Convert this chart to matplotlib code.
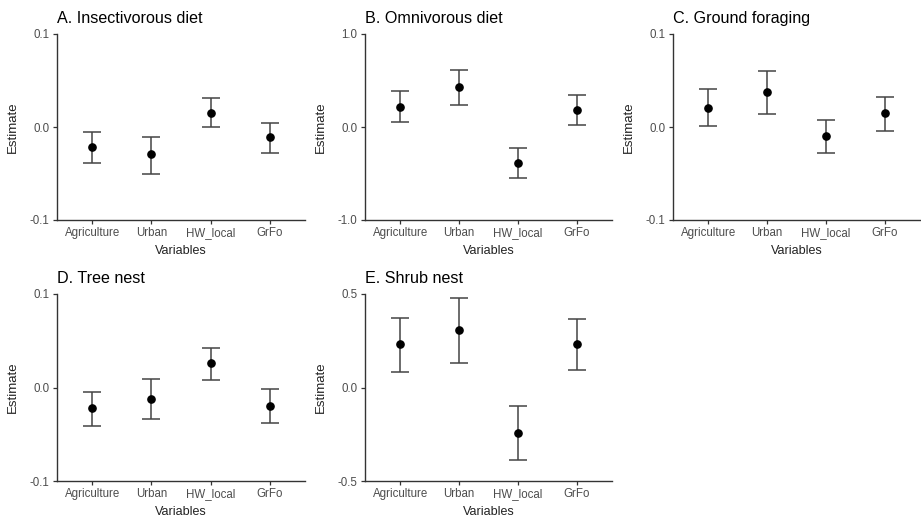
import matplotlib
matplotlib.use("Agg")
import matplotlib.pyplot as plt

plt.rcParams['font.family'] = ['Liberation Sans', 'DejaVu Sans']

categories = ["Agriculture", "Urban", "HW_local", "GrFo"]

titles = ["A. Insectivorous diet", "B. Omnivorous diet", "C. Ground foraging",
          "D. Tree nest", "E. Shrub nest"]

est_A = [-0.0214, -0.029, 0.0154, -0.011]
lo_A = [-0.039, -0.050, -0.0004, -0.028]
hi_A = [-0.005, -0.0104, 0.0314, 0.0043]

est_B = [0.218, 0.432, -0.389, 0.186]
lo_B = [0.05, 0.232, -0.55, 0.025]
hi_B = [0.382, 0.618, -0.229, 0.346]

est_C = [0.0204, 0.0375, -0.0093, 0.0146]
lo_C = [0.001, 0.0143, -0.028, -0.0046]
hi_C = [0.0407, 0.0604, 0.0079, 0.032]

est_D = [-0.0221, -0.012, 0.026, -0.020]
lo_D = [-0.041, -0.0338, 0.0082, -0.038]
hi_D = [-0.0043, 0.0096, 0.0427, -0.0018]

est_E = [0.231, 0.31, -0.242, 0.231]
lo_E = [0.084, 0.133, -0.388, 0.094]
hi_E = [0.374, 0.479, -0.0996, 0.368]

ylims = [(-0.1, 0.1), (-1.0, 1.0), (-0.1, 0.1), (-0.1, 0.1), (-0.5, 0.5)]
yticks = [[-0.1, 0.0, 0.1], [-1.0, 0.0, 1.0], [-0.1, 0.0, 0.1],
          [-0.1, 0.0, 0.1], [-0.5, 0.0, 0.5]]

data = [(est_A, lo_A, hi_A), (est_B, lo_B, hi_B), (est_C, lo_C, hi_C),
        (est_D, lo_D, hi_D), (est_E, lo_E, hi_E)]

W, H = 921, 519
fig = plt.figure(figsize=(W / 100, H / 100), dpi=100)

# axes boxes in pixels: left, right, top, bottom
boxes = [(57, 305, 34, 220), (365, 612, 34, 220), (673, 920, 34, 220),
         (57, 305, 294, 481), (365, 612, 294, 481)]

axcol = "#333333"
tickcol = "#4D4D4D"
for i, (l, r, t, b) in enumerate(boxes):
    ax = fig.add_axes([l / W, 1 - b / H, (r - l) / W, (b - t) / H])
    est, lo, hi = data[i]
    x = list(range(1, len(categories) + 1))
    yerr = [[e - a for e, a in zip(est, lo)], [c - e for e, c in zip(est, hi)]]
    ax.errorbar(x, est, yerr=yerr, fmt='o', color='black', ms=5.2,
                ecolor='#444444', elinewidth=1.1, capsize=6.8, capthick=1.1)
    ax.set_xlim(0.4, 4.6)
    ax.set_ylim(*ylims[i])
    ax.set_yticks(yticks[i])
    ax.set_yticklabels([f"{v:.1f}" for v in yticks[i]])
    ax.set_xticks(x)
    ax.set_xticklabels(categories, va='baseline')
    for s in ['top', 'right']:
        ax.spines[s].set_visible(False)
    for s in ['left', 'bottom']:
        ax.spines[s].set_color(axcol)
        ax.spines[s].set_linewidth(1.0)
    ax.tick_params(axis='both', colors=axcol, labelcolor=tickcol, labelsize=8.3,
                   length=3, width=0.9, pad=2.5)
    ax.tick_params(axis='x', pad=8.6)
    ax.set_xlabel("Variables", fontsize=9, color='#222222', labelpad=4)
    ax.set_ylabel("Estimate", fontsize=9.5, color='#222222', labelpad=8)
    ax.set_title(titles[i], loc='left', fontsize=11.6, color='black', pad=8)

fig.savefig("out.png", dpi=100)
